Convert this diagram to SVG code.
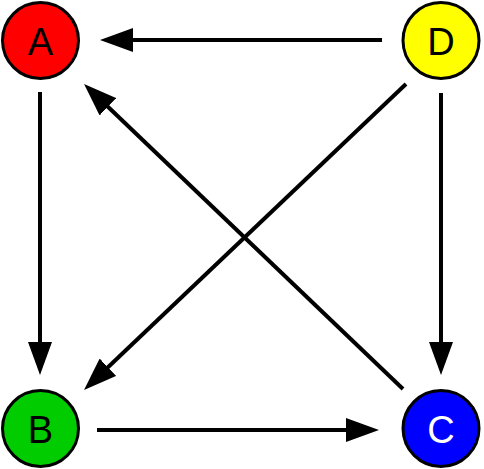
<svg xmlns="http://www.w3.org/2000/svg" width="484" height="469" viewBox="0 0 484 469">
<style>
.node circle{stroke:#000;stroke-width:3}
.node text{font-family:"Liberation Sans",Arial,sans-serif;font-size:38px;text-anchor:middle}
.edge{stroke:#000;stroke-width:4;fill:none;marker-end:url(#arrow)}
</style>
<defs>
<marker id="arrow" viewBox="0 0 33 24" refX="13" refY="12" markerWidth="33" markerHeight="24" markerUnits="userSpaceOnUse" orient="auto">
<path d="M0,0 L33,12 L0,24 z" fill="#000"/>
</marker>
</defs>
<rect width="484" height="469" fill="#fff"/>
<g id="connectors">
<line class="edge" x1="382" y1="40" x2="120" y2="40"/>
<line class="edge" x1="40" y1="92" x2="40" y2="355"/>
<line class="edge" x1="441" y1="93" x2="441" y2="355"/>
<line class="edge" x1="97" y1="430" x2="359" y2="430"/>
<line class="edge" x1="403" y1="389" x2="98.5" y2="97.8"/>
<line class="edge" x1="406" y1="84" x2="98.5" y2="376.2"/>
</g>
<g id="A" class="node"><circle cx="40.5" cy="40.5" r="38" fill="#ff0000"/><text x="40.5" y="54.5">A</text></g>
<g id="D" class="node"><circle cx="441" cy="40.5" r="38" fill="#ffff00"/><text x="441" y="54.5">D</text></g>
<g id="B" class="node"><circle cx="40.5" cy="428.5" r="38" fill="#00cc00"/><text x="40.5" y="442.5">B</text></g>
<g id="C" class="node"><circle cx="441" cy="428.5" r="38" fill="#0000ff"/><text x="441" y="442.5" fill="#fff">C</text></g>
</svg>
